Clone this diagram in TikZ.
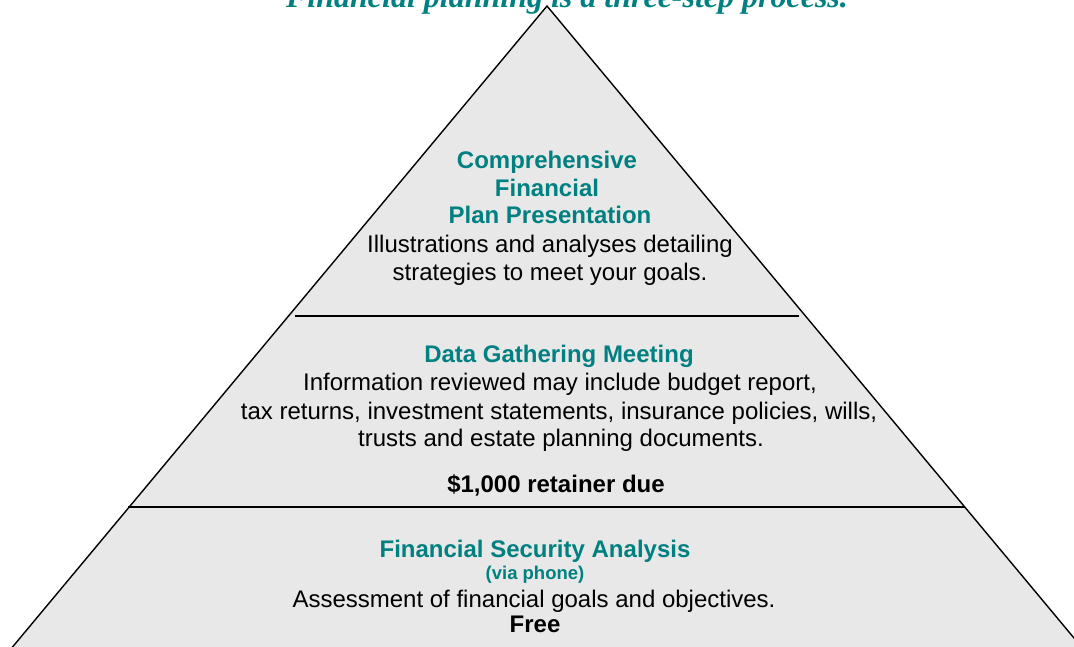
\documentclass[tikz,border=0pt]{standalone}
\usepackage{fontspec}
\setmainfont{Liberation Sans}
\newfontfamily\titlefont{Liberation Serif}
\definecolor{tealhead}{RGB}{0,128,128}
\definecolor{layerfill}{RGB}{232,232,232}
\begin{document}
\begin{tikzpicture}[x=1pt,y=-1pt,
  edge/.style={line width=1.4pt,black},
  head/.style={anchor=base,inner sep=0pt,text=tealhead,font=\bfseries\fontsize{24}{24}\selectfont},
  small/.style={anchor=base,inner sep=0pt,text=tealhead,font=\bfseries\fontsize{18.5}{18.5}\selectfont},
  body/.style={anchor=base,inner sep=0pt,font=\fontsize{24}{24}\selectfont},
  note/.style={anchor=base,inner sep=0pt,font=\bfseries\fontsize{24}{24}\selectfont},
  title/.style={anchor=base,inner sep=0pt,text=tealhead,font=\titlefont\bfseries\itshape\fontsize{32}{32}\selectfont}]
\useasboundingbox (0,0) rectangle (1074,646);
\clip (0,0) rectangle (1074,646);

% pyramid outline
\coordinate (apex) at (547,6);
\coordinate (bl) at (10,650);
\coordinate (br) at (1084,650);
\fill[layerfill] (apex) -- (bl) -- (br) -- cycle;
\draw[edge] (bl) -- (apex) -- (br);

% tier dividers
\coordinate (d1l) at (295,316);
\coordinate (d1r) at (799,316);
\coordinate (d2l) at (128,507);
\coordinate (d2r) at (965,507);
\draw[edge] (d1l) -- (d1r);
\draw[edge] (d2l) -- (d2r);

% title
\node[title] (title) at (567,7.5) {Financial planning is a three-step process.};

% top tier
\node[head] (t1) at (547,168) {Comprehensive};
\node[head] (t2) at (547,196) {Financial};
\node[head] (t3) at (550,223) {Plan Presentation};
\node[body] (t4) at (550,252) {Illustrations and analyses detailing};
\node[body] (t5) at (550,280) {strategies to meet your goals.};

% middle tier
\node[head] (m1) at (559,362) {Data Gathering Meeting};
\node[body] (m2) at (560,390) {Information reviewed may include budget report,};
\node[body] (m3) at (559,419) {tax returns, investment statements, insurance policies, wills,};
\node[body] (m4) at (561,446) {trusts and estate planning documents.};
\node[note] (m5) at (556,492) {\$1,000 retainer due};

% bottom tier
\node[head] (b1) at (535,557) {Financial Security Analysis};
\node[small] (b2) at (535,579) {(via phone)};
\node[body] (b3) at (534,607) {Assessment of financial goals and objectives.};
\node[note] (b4) at (535,632) {Free};
\end{tikzpicture}
\end{document}
